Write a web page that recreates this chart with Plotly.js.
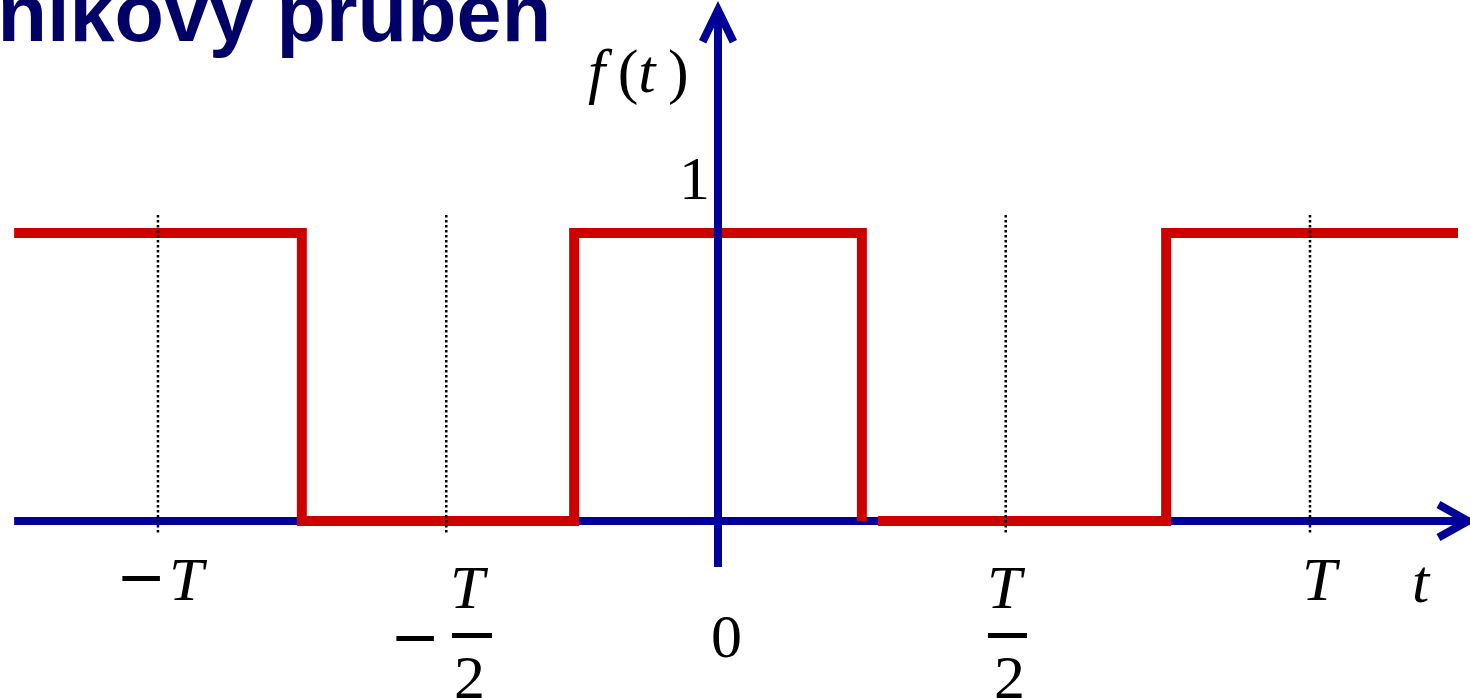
<!DOCTYPE html>
<html>
<head>
<meta charset="utf-8">
<script src="https://cdn.plot.ly/plotly-3.0.1.min.js"></script>
<style>
  html, body { margin: 0; padding: 0; background: #ffffff; }
  #chart { width: 1470px; height: 698px; }
</style>
</head>
<body>
<div id="chart"></div>
<script>
// Square wave f(t): one period T, value 1 on the pulse, 0 between pulses.
// Times are in units of T.
const waveT = [-1.189, -0.703, -0.703, -0.243, -0.243, 0.243, 0.243, null, 0.270, 0.757, 0.757, 1.250];
const waveF = [1, 1, 0, 0, 1, 1, 0, null, 0, 0, 1, 1];

// Reference instants marked with dotted guides
const guideT = [-0.946, -0.459, 0.486, 1.0];

// Axis extents (t from, t to; f from, f to)
const tAxis = [-1.189, 1.267];
const fAxis = [-0.16, 1.774];

// Tick labels on the t axis
const tickPos = { minusT: -0.895, minusHalfT: -0.42, zero: 0.015, halfT: 0.488, T: 1.02 };
const levelOne = 1;

const RED = '#cc0000';
const BLUE = '#000099';
const MATH = 'Liberation Serif, Times New Roman, serif';
const SIGN = 'DejaVu Sans, sans-serif';
const FS = 62;

const traces = [{
  type: 'scatter',
  mode: 'lines',
  x: waveT,
  y: waveF,
  connectgaps: false,
  line: { color: RED, width: 10, shape: 'linear' },
  hoverinfo: 'skip'
}];

const shapes = [];
// t axis (under the wave)
shapes.push({ type: 'line', layer: 'below', x0: tAxis[0], x1: tAxis[1], y0: 0, y1: 0,
  line: { color: BLUE, width: 8 } });
shapes.push({ type: 'path', layer: 'below',
  path: `M ${tAxis[1] - 0.05} 0.057 L ${tAxis[1]} 0 L ${tAxis[1] - 0.05} -0.057`,
  line: { color: BLUE, width: 8 } });
// f axis (over the wave)
shapes.push({ type: 'line', layer: 'above', x0: 0, x1: 0, y0: fAxis[0], y1: fAxis[1],
  line: { color: BLUE, width: 8 } });
shapes.push({ type: 'path', layer: 'above',
  path: `M -0.026 ${fAxis[1] - 0.11} L 0 ${fAxis[1]} L 0.026 ${fAxis[1] - 0.11}`,
  line: { color: BLUE, width: 8 } });
// dotted guides
guideT.forEach(t => {
  shapes.push({ type: 'line', layer: 'above', x0: t, x1: t, y0: -0.04, y1: 1.065,
    line: { color: '#000000', width: 2.5, dash: '2.5px,2.5px' } });
});
// fraction bars of the T/2 labels
[[-0.4494, -0.3818], [0.456, 0.522]].forEach(([a, b]) => {
  shapes.push({ type: 'line', layer: 'above', x0: a, x1: b, y0: -0.398, y1: -0.398,
    line: { color: '#000000', width: 5 } });
});

function lbl(text, x, y, extra) {
  return Object.assign({
    text: text, x: x, y: y, xref: 'x', yref: 'y', showarrow: false,
    xanchor: 'center', yanchor: 'middle',
    font: { family: MATH, size: FS, color: '#000000' }
  }, extra || {});
}
const signFont = { family: SIGN, size: 60, color: '#000000' };

const annotations = [
  lbl('−', -0.974, -0.19, { font: signFont }),
  lbl('<i>T</i>', tickPos.minusT, -0.20),
  lbl('−', -0.512, -0.40, { font: signFont }),
  lbl('<i>T</i>', tickPos.minusHalfT, -0.23),
  lbl('2', tickPos.minusHalfT, -0.54),
  lbl('0', tickPos.zero, -0.40),
  lbl('<i>T</i>', tickPos.halfT, -0.23),
  lbl('2', tickPos.halfT + 0.004, -0.54),
  lbl('<i>T</i>', tickPos.T, -0.20),
  lbl('<i>t</i>', 1.189, -0.21),
  lbl(String(levelOne), -0.039, 1.19),
  lbl('<i>f</i>\u2009(<i>t</i>\u2009)', -0.135, 1.56),
  {
    text: '<b>Obdélníkový průběh</b>', xref: 'paper', yref: 'paper',
    x: 553 / 1470, y: (698 - 13) / 698, xanchor: 'right', yanchor: 'middle',
    showarrow: false,
    font: { family: 'Liberation Sans, Arial, sans-serif', size: 81, color: '#000066' }
  }
];

const layout = {
  width: 1470, height: 698,
  margin: { l: 0, r: 0, t: 0, b: 0 },
  paper_bgcolor: '#ffffff', plot_bgcolor: '#ffffff',
  showlegend: false,
  xaxis: { range: [-718 / 592, 752 / 592], visible: false, fixedrange: true },
  yaxis: { range: [-177 / 288, 521 / 288], visible: false, fixedrange: true },
  shapes: shapes,
  annotations: annotations
};

Plotly.newPlot('chart', traces, layout, { staticPlot: true, displayModeBar: false });
</script>
</body>
</html>
